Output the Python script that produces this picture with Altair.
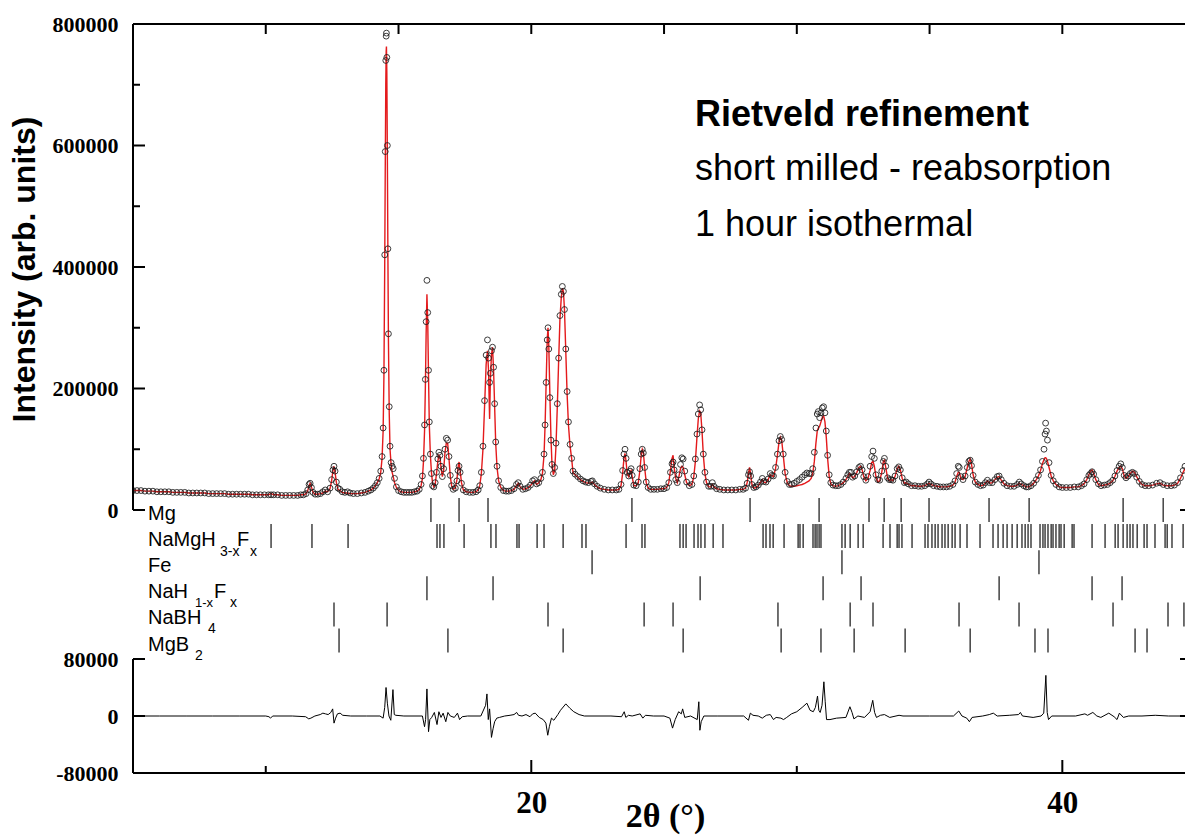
import altair as alt
import pandas as pd

# ------------------------------------------------------------------
# Data.  2θ in degrees, intensities in thousands
# Rows: (2θ, observed, calculated)
# ------------------------------------------------------------------
seg_low = [
    (5.00, 32, 32), (5.15, 32, 32), (5.30, 32, 32), (5.45, 31, 31), (5.60, 31, 31),
    (5.75, 31, 31), (5.90, 30, 30), (6.05, 30, 30), (6.20, 30, 30), (6.35, 30, 30),
    (6.50, 29, 29), (6.65, 29, 29), (6.80, 29, 29), (6.95, 29, 29), (7.10, 28, 28),
    (7.25, 28, 28), (7.40, 28, 28), (7.55, 28, 28), (7.70, 28, 28), (7.85, 27, 27),
    (8.00, 27, 27), (8.15, 27, 27), (8.30, 27, 27), (8.45, 27, 27), (8.60, 26, 26),
    (8.75, 26, 26), (8.90, 26, 26), (9.05, 26, 26), (9.20, 26, 26), (9.35, 26, 26),
    (9.50, 25, 25), (9.65, 25, 25), (9.80, 25, 25), (9.95, 25, 25), (10.10, 25, 25),
    (10.20, 25, 27), (10.30, 25, 25), (10.45, 25, 25), (10.60, 24, 24), (10.75, 24, 24),
    (10.90, 24, 24), (11.05, 24, 24), (11.20, 24, 24), (11.32, 25, 25),
]
seg_12 = [
    (11.42, 25, 25), (11.52, 27, 27), (11.58, 33, 32), (11.63, 42, 40), (11.67, 44, 44),
    (11.72, 37, 38), (11.78, 29, 29), (11.86, 26, 26), (11.96, 26, 26), (12.06, 27, 27),
    (12.15, 30, 28), (12.24, 33, 31), (12.33, 30, 30), (12.42, 36, 35), (12.48, 50, 48),
    (12.53, 66, 65), (12.57, 72, 72), (12.61, 64, 62), (12.66, 46, 45), (12.72, 36, 34),
    (12.79, 34, 32), (12.88, 30, 29), (12.98, 29, 28), (13.08, 30, 28), (13.18, 28, 27),
    (13.30, 27, 27), (13.45, 27, 27), (13.60, 28, 28), (13.74, 29, 29), (13.86, 31, 31),
    (13.96, 33, 33), (14.05, 36, 36), (14.13, 40, 40), (14.20, 45, 45),
]
seg_main = [
    (14.27, 52, 51), (14.33, 64, 62), (14.38, 88, 85), (14.42, 135, 130), (14.45, 230, 220),
    (14.48, 420, 400), (14.50, 590, 560), (14.52, 740, 700), (14.535, 780, 755), (14.545, 785, 763),
    (14.56, 745, 720), (14.58, 600, 580), (14.60, 430, 420), (14.62, 290, 280), (14.65, 170, 160),
    (14.68, 105, 100), (14.72, 78, 75), (14.76, 72, 62), (14.80, 68, 55), (14.85, 52, 45),
    (14.92, 38, 37), (15.00, 32, 32),
]
seg_16_19 = [
    (15.10, 30, 30), (15.20, 29, 29), (15.30, 29, 29), (15.40, 29, 29), (15.50, 29, 29),
    (15.60, 30, 30), (15.70, 31, 31), (15.78, 34, 34), (15.85, 42, 40), (15.90, 56, 52),
    (15.94, 85, 80), (15.98, 140, 130), (16.01, 215, 200), (16.04, 310, 290), (16.07, 378, 355),
    (16.10, 325, 310), (16.13, 230, 220), (16.16, 145, 140), (16.20, 92, 90), (16.24, 60, 62),
    (16.28, 40, 45), (16.33, 38, 38), (16.38, 45, 42), (16.43, 62, 60), (16.48, 84, 80),
    (16.52, 95, 90), (16.56, 90, 88), (16.60, 72, 70), (16.65, 55, 55), (16.70, 68, 65),
    (16.75, 100, 95), (16.80, 118, 110), (16.85, 115, 110), (16.90, 88, 85), (16.95, 57, 55),
    (17.00, 40, 40), (17.06, 34, 34), (17.14, 36, 36), (17.20, 48, 50), (17.24, 65, 70),
    (17.28, 72, 79), (17.32, 62, 65), (17.37, 44, 45), (17.44, 33, 33), (17.55, 30, 30),
    (17.68, 29, 29), (17.80, 29, 29), (17.92, 30, 30), (18.00, 33, 33), (18.06, 40, 40),
    (18.12, 62, 60), (18.18, 105, 100), (18.24, 180, 170), (18.30, 255, 240), (18.35, 280, 262),
    (18.39, 250, 230), (18.43, 210, 150), (18.46, 225, 215), (18.50, 262, 255), (18.54, 268, 268),
    (18.58, 235, 230), (18.62, 175, 170), (18.66, 112, 110), (18.71, 72, 70), (18.77, 48, 48),
    (18.85, 37, 37), (18.95, 32, 32),
]
seg_19_23 = [
    (19.05, 31, 31), (19.15, 31, 31), (19.25, 32, 32), (19.35, 35, 34), (19.44, 42, 40),
    (19.51, 45, 44), (19.58, 39, 38), (19.68, 34, 34), (19.78, 35, 35), (19.88, 37, 37),
    (19.97, 41, 40), (20.05, 48, 45), (20.12, 50, 48), (20.20, 43, 42), (20.28, 45, 45),
    (20.36, 52, 50), (20.42, 62, 60), (20.48, 92, 90), (20.52, 140, 140), (20.56, 210, 210),
    (20.60, 280, 280), (20.63, 300, 300), (20.66, 265, 270), (20.70, 185, 190), (20.74, 115, 120),
    (20.78, 75, 75), (20.83, 60, 58), (20.88, 70, 65), (20.93, 110, 105), (20.98, 175, 170),
    (21.03, 250, 245), (21.08, 320, 315), (21.13, 355, 350), (21.17, 368, 365), (21.21, 360, 360),
    (21.25, 330, 330), (21.30, 265, 260), (21.35, 195, 190), (21.40, 145, 140), (21.46, 108, 105),
    (21.52, 85, 85), (21.57, 64, 62), (21.65, 59, 58), (21.75, 55, 54), (21.85, 51, 50),
    (21.95, 48, 47), (22.05, 46, 45), (22.15, 45, 44), (22.25, 47, 45), (22.30, 48, 46),
    (22.38, 43, 42), (22.48, 39, 38), (22.60, 36, 35),
]
seg_23_27 = [
    (22.75, 34, 34), (22.90, 33, 33), (23.05, 33, 33), (23.20, 33, 33), (23.30, 34, 34),
    (23.38, 42, 40), (23.44, 65, 60), (23.49, 92, 85), (23.53, 100, 93), (23.57, 85, 80),
    (23.61, 62, 60), (23.67, 56, 55), (23.72, 64, 62), (23.76, 68, 65), (23.80, 57, 55),
    (23.86, 41, 40), (23.95, 40, 40), (24.03, 46, 45), (24.09, 68, 65), (24.14, 92, 90),
    (24.18, 100, 100), (24.22, 94, 95), (24.27, 70, 70), (24.33, 46, 45), (24.40, 37, 36),
    (24.50, 34, 34), (24.62, 34, 34), (24.75, 34, 34), (24.88, 35, 35), (25.00, 35, 35),
    (25.10, 37, 37), (25.18, 45, 45), (25.24, 62, 65), (25.30, 76, 85), (25.34, 79, 90),
    (25.38, 66, 70), (25.44, 50, 52), (25.50, 45, 45), (25.56, 58, 55), (25.62, 75, 68),
    (25.67, 86, 72), (25.72, 84, 70), (25.78, 64, 58), (25.85, 46, 45), (25.95, 40, 40),
    (26.05, 42, 42), (26.12, 56, 55), (26.18, 84, 80), (26.24, 125, 120), (26.29, 158, 150),
    (26.34, 173, 163), (26.38, 165, 160), (26.43, 132, 130), (26.48, 92, 90), (26.54, 62, 60),
    (26.60, 46, 45), (26.68, 39, 38), (26.76, 39, 38), (26.82, 45, 42), (26.88, 39, 38),
    (26.98, 35, 35),
]
seg_27_30 = [
    (27.10, 34, 34), (27.25, 33, 33), (27.40, 33, 33), (27.55, 33, 33), (27.70, 33, 33),
    (27.85, 34, 34), (27.98, 34, 34), (28.07, 36, 36), (28.13, 44, 45), (28.18, 58, 60),
    (28.22, 63, 70), (28.26, 56, 60), (28.31, 42, 42), (28.38, 37, 36), (28.46, 38, 37),
    (28.55, 41, 40), (28.63, 46, 45), (28.70, 52, 50), (28.76, 47, 46), (28.84, 46, 45),
    (28.92, 51, 50), (29.00, 60, 58), (29.06, 57, 56), (29.12, 56, 55), (29.20, 70, 68),
    (29.27, 92, 90), (29.33, 114, 112), (29.38, 121, 120), (29.43, 116, 115), (29.49, 92, 90),
    (29.56, 62, 60), (29.64, 47, 45), (29.72, 42, 40), (29.80, 42, 39), (29.90, 44, 39),
    (30.00, 47, 40), (30.10, 50, 41), (30.20, 54, 42), (30.30, 58, 44), (30.38, 61, 46),
    (30.46, 60, 48), (30.54, 60, 52),
]
seg_31_34 = [
    (30.60, 68, 60), (30.66, 95, 80), (30.72, 135, 110), (30.77, 158, 130), (30.81, 162, 135),
    (30.86, 152, 138), (30.91, 160, 145), (30.96, 168, 152), (31.01, 170, 155), (31.06, 160, 145),
    (31.11, 130, 120), (31.16, 90, 85), (31.22, 58, 55), (31.28, 45, 43), (31.36, 41, 40),
    (31.46, 40, 39), (31.56, 40, 40), (31.66, 42, 42), (31.75, 46, 45), (31.85, 52, 50),
    (31.92, 58, 55), (31.98, 62, 60), (32.04, 62, 58), (32.10, 54, 53), (32.18, 56, 55),
    (32.26, 63, 62), (32.34, 70, 70), (32.40, 72, 72), (32.46, 66, 66), (32.52, 55, 55),
    (32.60, 49, 48), (32.68, 55, 52), (32.76, 72, 65), (32.82, 88, 78), (32.87, 97, 80),
    (32.92, 85, 72), (32.98, 58, 55), (33.05, 50, 46), (33.12, 49, 48), (33.20, 64, 62),
    (33.26, 80, 80), (33.30, 85, 82), (33.35, 72, 70), (33.42, 53, 52), (33.48, 50, 48),
    (33.55, 50, 50), (33.62, 49, 48), (33.70, 56, 55), (33.78, 68, 68), (33.84, 71, 72),
    (33.90, 66, 66), (33.97, 53, 52), (34.05, 45, 44), (34.12, 46, 45), (34.20, 43, 42),
    (34.32, 40, 40), (34.45, 40, 40),
]
seg_high = [
    (34.58, 39, 39), (34.70, 39, 39), (34.82, 40, 40), (34.92, 43, 42), (34.98, 46, 44),
    (35.05, 43, 42), (35.15, 40, 40), (35.28, 39, 39), (35.40, 38, 38), (35.52, 38, 38),
    (35.64, 38, 38), (35.76, 39, 39), (35.88, 42, 41), (35.96, 48, 46), (36.02, 60, 55),
    (36.08, 72, 62), (36.12, 70, 62), (36.18, 55, 52), (36.26, 50, 50), (36.34, 56, 55),
    (36.42, 70, 70), (36.48, 80, 80), (36.53, 82, 84), (36.58, 73, 75), (36.64, 57, 58),
    (36.72, 46, 46), (36.82, 42, 42), (36.92, 40, 40), (37.02, 41, 41), (37.10, 45, 44),
    (37.18, 49, 48), (37.26, 45, 44), (37.36, 45, 45), (37.46, 50, 50), (37.55, 55, 54),
    (37.62, 56, 55), (37.70, 50, 49), (37.80, 44, 43), (37.92, 40, 40), (38.05, 39, 39),
    (38.18, 39, 39), (38.30, 42, 41), (38.38, 46, 44), (38.45, 43, 42), (38.55, 40, 40),
    (38.64, 38, 38), (38.72, 38, 38), (38.82, 40, 40), (38.92, 44, 44), (39.02, 50, 50),
    (39.10, 57, 56), (39.18, 66, 65), (39.25, 80, 76), (39.31, 100, 83), (39.35, 125, 86),
    (39.37, 143, 86), (39.40, 130, 85), (39.44, 115, 80), (39.50, 78, 70), (39.58, 57, 56),
    (39.66, 48, 48), (39.76, 42, 42), (39.88, 38, 38), (40.00, 37, 37), (40.15, 37, 37),
    (40.30, 37, 37), (40.45, 38, 38), (40.60, 38, 38), (40.72, 40, 40), (40.82, 43, 43),
    (40.92, 50, 50), (41.00, 57, 58), (41.06, 60, 64), (41.12, 63, 66), (41.18, 59, 60),
    (41.26, 50, 50), (41.36, 43, 42), (41.46, 40, 40), (41.58, 41, 41), (41.70, 42, 42),
    (41.80, 45, 44), (41.90, 49, 48), (41.98, 56, 55), (42.06, 65, 64), (42.14, 72, 70),
    (42.20, 76, 72), (42.26, 70, 68), (42.33, 57, 56), (42.40, 53, 52), (42.48, 56, 55),
    (42.56, 60, 60), (42.64, 62, 64), (42.72, 60, 62), (42.80, 54, 55), (42.90, 47, 47),
    (43.00, 42, 42), (43.12, 40, 40), (43.25, 40, 40), (43.40, 41, 41), (43.55, 44, 43),
    (43.68, 45, 44), (43.80, 42, 41), (43.95, 40, 40), (44.10, 40, 40), (44.22, 41, 41),
    (44.34, 45, 44), (44.45, 53, 52), (44.55, 65, 62), (44.62, 72, 68),
]

# Difference curve (obs - calc), thousands
diff_points = [
    (5.0, 0), (6.0, 0), (7.0, 0), (8.0, 0), (9.0, 0), (10.0, 0), (10.12, -1), (10.18, -3), (10.26, 0),
    (11.0, 0), (11.5, -1), (11.62, -4), (11.7, -3), (11.85, 0), (12.05, 2), (12.15, 4), (12.25, 3),
    (12.35, 2), (12.45, 5), (12.52, 10), (12.57, -10), (12.63, -3), (12.7, 3), (12.8, 4), (12.9, 1),
    (13.2, 0), (13.8, 0), (14.3, 0), (14.42, -3), (14.48, 12), (14.53, 40), (14.58, 18), (14.64, 0),
    (14.71, -6), (14.79, 37), (14.84, 2), (14.9, 1), (15.2, 0), (15.9, 0), (15.98, -15), (16.02, -5),
    (16.07, 38), (16.13, -22), (16.18, -5), (16.25, -2), (16.35, 5), (16.45, -12), (16.52, 6),
    (16.6, -2), (16.68, 4), (16.78, -8), (16.86, 5), (16.95, 0), (17.1, -2), (17.22, 4), (17.3, -5),
    (17.4, -1), (17.6, 0), (18.1, 0), (18.28, 15), (18.33, 31), (18.38, -5), (18.43, 10), (18.5, -30),
    (18.56, -18), (18.62, -8), (18.7, -3), (18.8, -2), (19.0, 0), (19.2, 1), (19.35, 2), (19.45, 5),
    (19.52, 1), (19.65, 0), (19.8, 2), (19.95, -1), (20.05, 3), (20.15, 4), (20.3, -2), (20.45, -5),
    (20.55, -10), (20.62, -27), (20.68, -15), (20.76, -3), (20.85, -6), (21.0, 2), (21.1, 8),
    (21.3, 17), (21.45, 11), (21.6, 6), (21.8, 2), (22.0, 0), (23.0, 0), (23.4, -1), (23.5, 6),
    (23.56, -2), (23.66, 1), (23.8, 0), (24.1, 3), (24.2, -3), (24.3, 1), (24.6, 0), (25.0, 0),
    (25.22, -3), (25.32, -17), (25.42, -5), (25.55, 6), (25.65, 3), (25.7, 10), (25.78, -2),
    (26.0, 0), (26.25, -5), (26.31, 20), (26.35, -20), (26.4, -8), (26.5, 0), (27.0, 0), (28.0, 0),
    (28.18, -6), (28.25, 4), (28.35, 1), (28.55, 0), (28.7, -3), (28.85, 1), (29.0, 2), (29.12, -5),
    (29.22, -2), (29.4, -3), (29.5, -5), (29.62, -2), (29.8, 3), (30.0, 6), (30.2, 12), (30.38, 18),
    (30.5, 8), (30.62, 6), (30.7, 12), (30.78, 28), (30.83, 8), (30.88, 5), (30.95, 15), (31.02, 48),
    (31.07, 20), (31.12, -5), (31.25, -5), (31.5, -3), (31.85, -2), (32.0, 13), (32.08, 5),
    (32.15, -4), (32.3, 0), (32.55, -2), (32.76, 6), (32.86, 22), (32.93, 5), (33.0, -2),
    (33.15, 1), (33.3, 2), (33.5, -2), (33.85, 1), (34.0, 0), (35.0, 0), (35.9, 0), (36.1, 7),
    (36.22, 0), (36.4, -3), (36.5, -8), (36.6, -2), (37.0, 0), (37.25, 2), (37.4, 4), (37.55, 0),
    (38.0, 1), (38.35, 2), (38.42, 5), (38.5, 0), (38.9, -2), (39.2, 0), (39.3, 4), (39.38, 57),
    (39.43, 5), (39.48, -5), (39.6, 0), (40.5, 0), (40.85, 3), (40.95, 1), (41.15, 5), (41.3, 0),
    (41.45, -2), (41.75, 4), (41.95, -1), (42.06, -5), (42.15, 4), (42.3, -2), (42.5, 0), (43.0, 0),
    (43.5, 1), (44.0, 0), (44.62, 0),
]

# Bragg reflection positions (2θ) per phase
phase_names = ["Mg", "NaMgH3-xFx", "Fe", "NaH1-xFx", "NaBH4", "MgB2"]
refl_mg = [16.22, 17.28, 18.37, 23.79, 28.24, 30.84, 32.72, 33.29, 33.93, 34.98, 37.24, 38.75, 42.29, 43.80]
refl_namgh = [10.20, 11.74, 13.10, 16.45, 16.56, 16.71, 17.47, 18.48, 18.67, 19.46, 19.54, 20.22, 20.48,
              21.20, 21.91, 22.06, 23.57, 24.17, 24.28, 25.60, 25.72, 25.83, 26.13, 26.28, 26.39, 26.54,
              26.85, 27.22, 28.73, 28.84, 28.99, 29.11, 29.52, 30.05, 30.12, 30.24, 30.61, 30.69, 30.76,
              30.84, 30.91, 31.70, 31.82, 32.01, 32.31, 32.50, 33.25, 33.51, 33.78, 33.85, 33.96, 34.34,
              34.83, 34.94, 35.09, 35.21, 35.32, 35.47, 35.58, 35.70, 35.85, 35.96, 36.15, 36.41, 36.90,
              37.39, 37.58, 37.77, 37.92, 38.11, 38.30, 38.48, 38.60, 38.71, 38.82, 39.16, 39.27, 39.35,
              39.46, 39.58, 39.65, 39.76, 39.88, 39.95, 40.07, 40.37, 40.44, 41.12, 41.61, 41.99, 42.10,
              42.29, 42.44, 42.55, 42.66, 42.82, 43.08, 43.19, 43.49, 43.87, 43.95, 44.13, 44.55]
refl_fe = [22.29, 31.70, 39.12]
refl_nah = [16.07, 18.56, 26.36, 30.99, 32.42, 37.62, 41.12, 42.25]
refl_nabh4 = [12.57, 14.57, 20.63, 24.25, 25.34, 29.29, 32.01, 32.87, 36.11, 38.37, 41.91, 43.98, 44.58]
refl_mgb2 = [12.76, 16.86, 21.20, 25.72, 29.41, 30.91, 32.16, 34.08, 36.53, 38.97, 39.46, 42.74, 43.19]

x_tick_major = [20, 40]
x_tick_minor = [10, 30]
x_tick_top = [10, 15, 20, 25, 30, 35, 40]
y_top_major = [0, 200000, 400000, 600000, 800000]
y_top_minor = [100000, 300000, 500000, 700000]
y_bot_ticks = [-80000, 0, 80000]
y_top_right_ticks = [0]
y_bot_right_ticks = [0, 80000]

# ------------------------------------------------------------------
profile = pd.DataFrame(seg_low + seg_12 + seg_main + seg_16_19 + seg_19_23 + seg_23_27
                       + seg_27_30 + seg_31_34 + seg_high, columns=["tt", "obs_k", "calc_k"])
profile["obs"] = profile["obs_k"] * 1000
profile["calc"] = profile["calc_k"] * 1000
diff = pd.DataFrame(diff_points, columns=["tt", "d_k"])
diff["d"] = diff["d_k"] * 1000

refl_lists = [refl_mg, refl_namgh, refl_fe, refl_nah, refl_nabh4, refl_mgb2]
refl = pd.DataFrame([{"phase": p, "row": i, "tt": t}
                     for i, (p, lst) in enumerate(zip(phase_names, refl_lists)) for t in lst])

# ------------------------------------------------------------------
# Layout
W, H = 1052, 749
ZERO_PX = 486                      # pixel row of intensity 0 in the top panel
per_px_top = 800000 / ZERO_PX
top_domain = [-(H - ZERO_PX) * per_px_top, 800000]
B_TOP, B_BOT = 635, 749            # pixel rows of +80000 / -80000
per_px_bot = 160000 / (B_BOT - B_TOP)
bot_domain = [-80000, 80000 + B_TOP * per_px_bot]
ROW0, ROWSTEP = 486, 26.1
row_domain = [-ROW0 / ROWSTEP, (H - ROW0) / ROWSTEP]

SERIF = "Liberation Serif"
SANS = "Liberation Sans"
RED = "#e41a1c"

xs = alt.Scale(domain=[5, 44.62], nice=False, zero=False)


def ys_top():
    return alt.Scale(domain=top_domain, nice=False, zero=False)


def ys_bot():
    return alt.Scale(domain=bot_domain, nice=False, zero=False)


def ys_row():
    return alt.Scale(domain=row_domain, nice=False, zero=False, reverse=True)


one = pd.DataFrame({"a": [0]})
label_expr = "datum.value < 0 ? '-' + format(-datum.value, 'd') : format(datum.value, 'd')"

x_axis = alt.Axis(values=x_tick_major, format="d", domain=False, ticks=False, grid=False,
                  labelFont=SERIF, labelFontWeight="bold", labelFontSize=31, labelColor="black",
                  labelPadding=15, title="2θ (°)", titleFont=SERIF, titleFontWeight="bold",
                  titleFontSize=34, titleColor="black", titleX=532, titleY=53,
                  titleBaseline="alphabetic", titleAlign="center")

top_axis = alt.Axis(values=y_top_major, labelExpr=label_expr, orient="left", domain=False,
                    ticks=False, grid=False, labelFont=SERIF, labelFontWeight="bold",
                    labelFontSize=22, labelColor="black", labelPadding=15,
                    title="Intensity (arb. units)", titleFont=SANS, titleFontWeight="bold",
                    titleFontSize=32, titleColor="black", titleX=-109, titleY=245,
                    titleAngle=270, titleAlign="center", titleBaseline="middle")

bot_axis = alt.Axis(values=y_bot_ticks, labelExpr=label_expr, orient="left", domain=False,
                    ticks=False, grid=False, labelFont=SERIF, labelFontWeight="bold",
                    labelFontSize=22, labelColor="black", labelPadding=15, title=None)


def X(field):
    # every layer carries the same x axis definition so the shared axis merges cleanly
    return alt.X(field, scale=xs, axis=x_axis)


# ---------------- top panel ----------------
calc_line = alt.Chart(profile).mark_line(color=RED, strokeWidth=1.4, clip=True).encode(
    x=X("tt:Q"),
    y=alt.Y("calc:Q", scale=ys_top(), axis=top_axis),
)
obs_pts = alt.Chart(profile).mark_point(shape="circle", filled=False, size=34, color="#1a1a1a",
                                        strokeWidth=1.0, opacity=0.85, clip=True).encode(
    x=X("tt:Q"),
    y=alt.Y("obs:Q", scale=ys_top(), axis=None),
)
top_left_line = alt.Chart(pd.DataFrame({"lo": [0], "hi": [800000]})).mark_rule(
    color="black", strokeWidth=2).encode(
    x=alt.value(0), y=alt.Y("lo:Q", scale=ys_top(), axis=None), y2="hi:Q")
top_major = alt.Chart(pd.DataFrame({"v": y_top_major})).mark_rule(color="black", strokeWidth=2).encode(
    x=alt.value(0), x2=alt.value(12), y=alt.Y("v:Q", scale=ys_top(), axis=None))
top_minor = alt.Chart(pd.DataFrame({"v": y_top_minor})).mark_rule(color="black", strokeWidth=2).encode(
    x=alt.value(0), x2=alt.value(7), y=alt.Y("v:Q", scale=ys_top(), axis=None))
top_right = alt.Chart(pd.DataFrame({"v": y_top_right_ticks})).mark_rule(color="black", strokeWidth=2).encode(
    x=alt.value(W - 5), x2=alt.value(W), y=alt.Y("v:Q", scale=ys_top(), axis=None))

# ---------------- reflection markers ----------------
ticks = alt.Chart(refl).mark_tick(orient="vertical", size=24, thickness=1.6, color="black").encode(
    x=X("tt:Q"),
    y=alt.Y("row:Q", scale=ys_row(), axis=None),
)


def label_piece(text, row, x_px, dy, size):
    return alt.Chart(pd.DataFrame({"row": [row], "t": [text]})).mark_text(
        align="left", baseline="alphabetic", dy=dy, font=SANS, fontSize=size, color="black"
    ).encode(x=alt.value(x_px), y=alt.Y("row:Q", scale=ys_row(), axis=None), text="t:N")


labels = [
    label_piece("Mg", 0, 15, 10, 20),
    label_piece("NaMgH", 1, 15, 10, 20), label_piece("3-x", 1, 87, 20, 14),
    label_piece("F", 1, 104, 10, 20), label_piece("x", 1, 117, 20, 14),
    label_piece("Fe", 2, 15, 10, 20),
    label_piece("NaH", 3, 15, 10, 20), label_piece("1-x", 3, 62, 19, 13),
    label_piece("F", 3, 81, 10, 20), label_piece("x", 3, 97, 19, 14),
    label_piece("NaBH", 4, 15, 10, 20), label_piece("4", 4, 75, 19, 14),
    label_piece("MgB", 5, 15, 10, 20), label_piece("2", 5, 62, 19, 14),
]

# frame lines and x ticks (pixel-placed decorations)
frame_top = alt.Chart(one).mark_rule(color="black", strokeWidth=2).encode(
    x=alt.value(0), x2=alt.value(W), y=alt.value(0))
frame_bot = alt.Chart(one).mark_rule(color="black", strokeWidth=2).encode(
    x=alt.value(0), x2=alt.value(W), y=alt.value(H))
xt_major = alt.Chart(pd.DataFrame({"t": x_tick_major})).mark_rule(color="black", strokeWidth=2).encode(
    x=X("t:Q"), y=alt.value(H), y2=alt.value(H - 13))
xt_minor = alt.Chart(pd.DataFrame({"t": x_tick_minor})).mark_rule(color="black", strokeWidth=2).encode(
    x=X("t:Q"), y=alt.value(H), y2=alt.value(H - 7))
xt_top = alt.Chart(pd.DataFrame({"t": x_tick_top})).mark_rule(color="black", strokeWidth=2).encode(
    x=X("t:Q"), y=alt.value(0), y2=alt.value(10))


def note(text, y_px, bold):
    return alt.Chart(one).mark_text(
        align="left", baseline="alphabetic", font=SANS, fontSize=36,
        fontWeight="bold" if bold else "normal", color="black"
    ).encode(x=alt.value(562), y=alt.value(y_px), text=alt.value(text))


notes = [note("Rietveld refinement", 102, True),
         note("short milled - reabsorption", 156, False),
         note("1 hour isothermal", 212, False)]

# ---------------- difference panel ----------------
diff_line = alt.Chart(diff).mark_line(color="black", strokeWidth=1).encode(
    x=X("tt:Q"),
    y=alt.Y("d:Q", scale=ys_bot(), axis=bot_axis),
)
bot_left_line = alt.Chart(pd.DataFrame({"lo": [-80000], "hi": [80000]})).mark_rule(
    color="black", strokeWidth=2).encode(
    x=alt.value(0), y=alt.Y("lo:Q", scale=ys_bot(), axis=None), y2="hi:Q")
bot_ticks = alt.Chart(pd.DataFrame({"v": y_bot_ticks})).mark_rule(color="black", strokeWidth=2).encode(
    x=alt.value(0), x2=alt.value(12), y=alt.Y("v:Q", scale=ys_bot(), axis=None))
bot_right = alt.Chart(pd.DataFrame({"v": y_bot_right_ticks})).mark_rule(color="black", strokeWidth=2).encode(
    x=alt.value(W - 5), x2=alt.value(W), y=alt.Y("v:Q", scale=ys_bot(), axis=None))

chart = alt.layer(
    calc_line, obs_pts, top_left_line, top_major, top_minor, top_right,
    diff_line, bot_left_line, bot_ticks, bot_right,
    ticks, *labels, frame_top, frame_bot, xt_major, xt_minor, xt_top, *notes,
).resolve_scale(y="independent").properties(
    width=W, height=H, autosize="none",
    padding={"left": 133, "top": 24, "right": 0, "bottom": 62},
    background="white",
).configure_view(stroke=None)

chart.save("out.html", embed_options={"renderer": "svg", "actions": False})
